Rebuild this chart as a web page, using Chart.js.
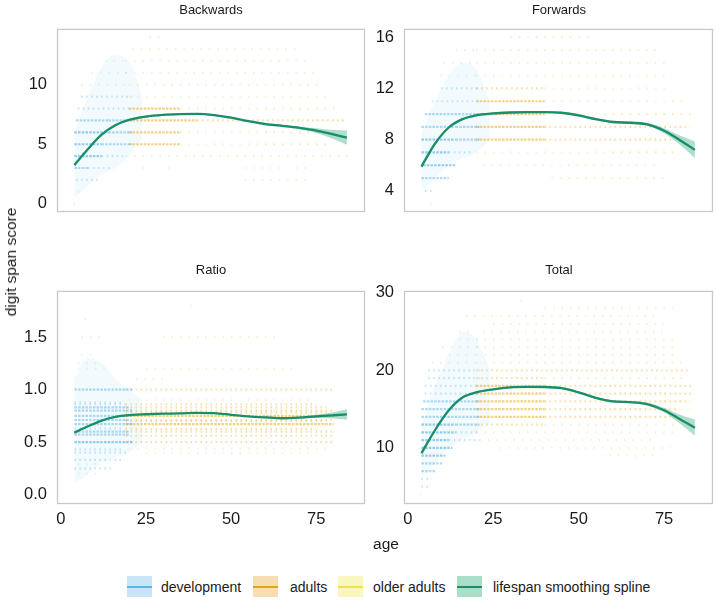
<!DOCTYPE html>
<html>
<head>
<meta charset="utf-8">
<script src="https://cdn.jsdelivr.net/npm/chart.js@4.4.1/dist/chart.umd.min.js"></script>
<style>
  body { margin: 0; background: #fff; font-family: "Liberation Sans", Arial, sans-serif; color: #1a1a1a; }
  #wrap { position: relative; width: 716px; height: 608px; overflow: hidden; }
  canvas { position: absolute; }
  .strip { position: absolute; font-size: 13px; transform: translate(-50%, -50%); white-space: nowrap; }
  .axis-title { position: absolute; font-size: 15.5px; white-space: nowrap; transform: translate(-50%, -50%); }
  .key { position: absolute; top: 576px; width: 25px; height: 21px; }
  .key i { position: absolute; left: 0; right: 0; top: 9.5px; height: 2px; }
  .key-label { position: absolute; top: 578px; font-size: 14px; line-height: 18px; }
</style>
</head>
<body>
<div id="wrap">
  <canvas id="backChart" width="373" height="241" style="left:0;top:9px"></canvas>
  <canvas id="fwdChart" width="369" height="241" style="left:347px;top:9px"></canvas>
  <canvas id="ratioChart" width="373" height="263" style="left:0;top:271px"></canvas>
  <canvas id="totalChart" width="369" height="263" style="left:347px;top:271px"></canvas>

  <div class="strip" style="left:211px;top:9px">Backwards</div>
  <div class="strip" style="left:559px;top:9px">Forwards</div>
  <div class="strip" style="left:211px;top:269px">Ratio</div>
  <div class="strip" style="left:559px;top:269px">Total</div>

  <div class="axis-title" style="left:11px;top:262px;transform:translate(-50%,-50%) rotate(-90deg)">digit span score</div>
  <div class="axis-title" style="left:386px;top:544px">age</div>

  <div class="key" style="left:127px;background:#c8e5f7"><i style="background:#5cb5e8"></i></div>
  <div class="key-label" style="left:161px">development</div>
  <div class="key" style="left:253px;background:#f5deb1"><i style="background:#e5a11c"></i></div>
  <div class="key-label" style="left:290px">adults</div>
  <div class="key" style="left:338px;background:#faf6bf"><i style="background:#efe24e"></i></div>
  <div class="key-label" style="left:373px">older adults</div>
  <div class="key" style="left:457px;background:#aadec9"><i style="background:#1a8d69"></i></div>
  <div class="key-label" style="left:493px">lifespan smoothing spline</div>
</div>

<script>
// shared x axis
const ageTicks = [0, 25, 50, 75];
const splineAge = [4, 8, 12, 16, 20, 25, 30, 35, 40, 45, 50, 55, 60, 65, 70, 75, 80, 84];
const devHazeAge = [4, 8, 12, 16, 20, 24];

// rows of observations: [score, age from, age to, relative count]
// Backwards
const backwardsTicks = [0, 5, 10];
const backwardsSpline = [3.25, 4.6, 5.8, 6.6, 7.05, 7.33, 7.47, 7.53, 7.55, 7.45, 7.23, 6.95, 6.7, 6.55, 6.38, 6.15, 5.82, 5.55];
const backwardsLower = [3.05, 4.5, 5.72, 6.52, 6.97, 7.25, 7.39, 7.45, 7.47, 7.37, 7.15, 6.87, 6.6, 6.45, 6.26, 5.95, 5.44, 4.95];
const backwardsUpper = [3.45, 4.7, 5.88, 6.68, 7.13, 7.41, 7.55, 7.61, 7.63, 7.53, 7.31, 7.03, 6.8, 6.65, 6.5, 6.35, 6.2, 6.15];
const backwardsDev = [
  [0, 3.7, 4.2, 1], [1, 5, 7, 1], [2, 4.5, 11, 2], [3, 4, 8, 3], [3, 8, 15, 2],
  [4, 4, 12, 4], [4, 12, 19, 2], [5, 4, 12, 4], [5, 12, 21, 3], [6, 4, 14, 4], [6, 14, 21, 3],
  [7, 4.5, 14, 3], [7, 14, 21, 3], [8, 5, 21, 2], [9, 6, 21, 2], [10, 6, 20, 1],
  [11, 9, 20, 1], [12, 13, 19, 1]
];
const backwardsAdults = [
  [2, 54, 73, 1], [3, 24, 32, 1], [3, 54, 73, 1], [4, 19, 86, 1],
  [5, 20, 35, 3], [5, 35, 80, 1], [6, 20, 35, 3], [6, 35, 79, 1],
  [7, 20, 40, 3], [7, 40, 84, 2], [8, 20, 35, 3], [8, 35, 81, 1],
  [9, 20, 78, 1], [10, 20, 76, 1], [11, 19, 75, 1], [12, 19, 73, 1],
  [13, 21, 70, 1], [14, 26, 30, 1]
];
const backwardsOlder = [[5, 60, 84, 1], [6, 60, 82, 1], [7, 60, 84, 1], [8, 60, 80, 1]];
const backwardsDevLow = [0.5, 1.5, 2.5, 3, 4, 5.5];
const backwardsDevHigh = [6, 9, 11.5, 12.5, 12, 9];

// Forwards
const forwardsTicks = [4, 8, 12, 16];
const forwardsSpline = [5.9, 7.7, 8.95, 9.6, 9.9, 10.05, 10.12, 10.15, 10.15, 10.1, 9.9, 9.6, 9.38, 9.32, 9.2, 8.7, 7.9, 7.2];
const forwardsLower = [5.7, 7.6, 8.87, 9.52, 9.82, 9.97, 10.04, 10.07, 10.07, 10.02, 9.8, 9.5, 9.28, 9.22, 9.08, 8.5, 7.52, 6.55];
const forwardsUpper = [6.1, 7.8, 9.03, 9.68, 9.98, 10.13, 10.2, 10.23, 10.23, 10.18, 10.0, 9.7, 9.48, 9.42, 9.32, 8.9, 8.28, 7.85];
const forwardsDev = [
  [3, 6.5, 7.2, 1], [4, 5, 8, 2], [5, 4, 12, 3], [6, 4.5, 14, 4],
  [7, 4, 12, 4], [7, 12, 19, 2], [8, 4, 14, 4], [8, 14, 21, 3],
  [9, 4, 14, 3], [9, 14, 21, 3], [10, 5, 21, 3], [11, 7, 21, 2],
  [12, 9.7, 21, 2], [13, 9.5, 20, 1], [14, 10.5, 20, 1], [15, 14, 20, 1]
];
const forwardsAdults = [
  [5, 42, 76, 1], [6, 22, 73, 1], [7, 20, 79, 1], [8, 20, 40, 3], [8, 40, 78, 2],
  [9, 20, 40, 3], [9, 40, 82, 2], [10, 20, 40, 3], [10, 40, 83, 1],
  [11, 20, 40, 3], [11, 40, 82, 1], [12, 20, 40, 2], [12, 40, 76, 1],
  [13, 20, 77, 1], [14, 20, 76, 1], [15, 20, 73, 1], [16, 30, 53, 1]
];
const forwardsOlder = [[7, 60, 80, 1], [8, 60, 82, 1], [9, 60, 84, 1], [10, 60, 82, 1]];
const forwardsDevLow = [4, 5, 6, 6.5, 7, 8];
const forwardsDevHigh = [8.5, 11, 13, 14, 13.5, 11];

// Ratio
const ratioTicks = [0, 0.5, 1, 1.5];
const ratioSpline = [0.59, 0.65, 0.705, 0.74, 0.757, 0.765, 0.77, 0.773, 0.778, 0.775, 0.76, 0.745, 0.735, 0.727, 0.733, 0.745, 0.755, 0.763];
const ratioLower = [0.575, 0.642, 0.699, 0.734, 0.751, 0.759, 0.764, 0.767, 0.772, 0.769, 0.754, 0.739, 0.728, 0.719, 0.723, 0.73, 0.725, 0.713];
const ratioUpper = [0.605, 0.658, 0.711, 0.746, 0.763, 0.771, 0.776, 0.779, 0.784, 0.781, 0.766, 0.751, 0.742, 0.735, 0.743, 0.76, 0.785, 0.813];
const ratioDev = [
  [0.2, 5, 12, 1], [0.25, 4, 15, 2], [0.29, 5, 12, 1], [0.33, 4, 18, 2], [0.4, 4, 20, 2],
  [0.43, 4, 18, 2], [0.5, 4, 21, 4], [0.57, 4, 20, 3], [0.6, 4, 20, 3], [0.63, 4, 18, 2],
  [0.67, 4, 21, 3], [0.71, 4, 20, 3], [0.75, 4, 21, 3], [0.8, 4, 21, 3], [0.83, 4, 20, 3],
  [0.86, 4, 19, 2], [0.875, 4, 18, 2], [1.0, 4, 21, 3], [1.2, 5, 14, 1], [1.25, 5, 12, 1],
  [1.33, 6, 11, 1], [1.5, 6, 12, 1], [1.67, 7, 9, 1]
];
const ratioAdults = [
  [0.4, 25, 75, 1], [0.44, 20, 78, 1], [0.5, 19, 80, 2], [0.56, 19, 80, 2], [0.6, 19, 80, 2],
  [0.625, 19, 75, 2], [0.67, 19, 80, 3], [0.7, 19, 78, 2], [0.71, 19, 80, 2], [0.75, 19, 80, 3],
  [0.78, 19, 78, 2], [0.8, 19, 80, 2], [0.83, 19, 78, 2], [0.86, 19, 75, 2], [0.9, 20, 75, 1],
  [1.0, 19, 80, 2], [1.1, 22, 30, 1], [1.2, 25, 70, 1], [1.5, 30, 65, 1], [1.8, 38, 40, 1]
];
const ratioOlder = [[0.6, 60, 82, 1], [0.67, 60, 84, 1], [0.75, 60, 84, 1], [0.8, 60, 80, 1]];
const ratioDevLow = [0.1, 0.2, 0.3, 0.35, 0.4, 0.5];
const ratioDevHigh = [1.1, 1.3, 1.25, 1.1, 1.0, 0.9];

// Total
const totalTicks = [10, 20, 30];
const totalSpline = [9.3, 12.3, 14.85, 16.5, 17.15, 17.55, 17.8, 17.86, 17.85, 17.7, 17.15, 16.45, 16.0, 15.9, 15.65, 14.85, 13.6, 12.6];
const totalLower = [9.0, 12.15, 14.73, 16.38, 17.03, 17.43, 17.68, 17.74, 17.73, 17.55, 17.0, 16.3, 15.85, 15.75, 15.45, 14.55, 13.0, 11.55];
const totalUpper = [9.6, 12.45, 14.97, 16.62, 17.27, 17.67, 17.92, 17.98, 17.97, 17.85, 17.3, 16.6, 16.15, 16.05, 15.85, 15.15, 14.2, 13.65];
const totalDev = [
  [4, 3.5, 4.5, 1], [5, 4, 6, 2], [6, 4, 7, 2], [7, 4, 8, 3], [8, 4, 10, 3], [9, 4, 11, 4],
  [10, 4, 13, 4], [11, 4, 12, 4], [11, 12, 21, 2], [12, 4, 14, 4], [12, 14, 21, 2],
  [13, 4, 14, 4], [13, 14, 21, 3], [14, 4, 21, 3], [15, 4, 21, 3], [16, 4.5, 21, 3],
  [17, 5, 21, 2], [18, 5, 21, 2], [19, 6, 21, 2], [20, 6, 21, 2], [21, 7, 21, 1],
  [22, 12, 21, 1], [23, 10, 21, 1], [24, 15, 21, 1], [25, 15, 20, 1]
];
const totalAdults = [
  [9, 59, 73, 1], [10, 27, 77, 1], [11, 21, 72, 1], [12, 20, 78, 1], [13, 20, 40, 2], [13, 40, 78, 1],
  [14, 20, 40, 3], [14, 40, 79, 2], [15, 20, 40, 3], [15, 40, 79, 2], [16, 20, 40, 3], [16, 40, 82, 2],
  [17, 20, 40, 3], [17, 40, 83, 2], [18, 20, 40, 3], [18, 40, 83, 2], [19, 20, 40, 2], [19, 40, 82, 1],
  [20, 20, 82, 2], [21, 20, 80, 1], [22, 20, 78, 1], [23, 20, 78, 1], [24, 20, 78, 1],
  [25, 22, 75, 1], [26, 25, 75, 1], [27, 17, 72, 1], [28, 40, 78, 1], [29, 33, 34, 1]
];
const totalOlder = [[14, 60, 82, 1], [15, 60, 84, 1], [16, 60, 84, 1], [17, 60, 80, 1]];
const totalDevLow = [6, 8, 10, 11, 12, 13];
const totalDevHigh = [13, 18, 22, 25, 24, 20];

const DEV = '86,180,233';
const ADULT = '230,159,0';
const OLDER = '240,228,66';
const SPLINE = '#188e69';

function pairs(xs, ys) {
    return xs.map((x, i) => ({ x: x, y: ys[i] }));
}

function dashFor(n) {
    if (n >= 3) return [2.5, 1.2];
    if (n === 2) return [1.6, 3.4];
    return [1.5, 7];
}

function rowSets(rows, rgb, base, order) {
    return rows.map(r => ({
        data: [{ x: r[1], y: r[0] }, { x: r[2], y: r[0] }],
        borderColor: `rgba(${rgb},${Math.min(0.8, base * r[3])})`,
        borderWidth: 2.2,
        borderDash: dashFor(r[3]),
        pointRadius: 0,
        fill: false,
        order: order
    }));
}

function bandSets(xs, low, high, color, order) {
    return [
        { data: pairs(xs, low), borderWidth: 0, pointRadius: 0, fill: false, order: order, cubicInterpolationMode: 'monotone' },
        { data: pairs(xs, high), borderWidth: 0, pointRadius: 0, fill: '-1', backgroundColor: color, order: order, cubicInterpolationMode: 'monotone' }
    ];
}

const panelBorder = {
    id: 'panelBorder',
    afterDraw(chart) {
        const a = chart.chartArea;
        const ctx = chart.ctx;
        ctx.save();
        ctx.strokeStyle = '#c8c8c8';
        ctx.lineWidth = 1.3;
        ctx.strokeRect(a.left + 0.5, a.top + 0.5, a.right - a.left - 1, a.bottom - a.top - 1);
        ctx.restore();
    }
};

function makePanel(id, p) {
    let datasets = [];
    datasets = datasets.concat(bandSets(devHazeAge, p.devLow, p.devHigh, 'rgba(86,180,233,0.07)', 6));
    datasets = datasets.concat(rowSets(p.older, OLDER, 0.22, 5));
    datasets = datasets.concat(rowSets(p.adults, ADULT, 0.16, 4));
    datasets = datasets.concat(rowSets(p.dev, DEV, 0.16, 3));
    datasets = datasets.concat(bandSets(splineAge, p.lower, p.upper, 'rgba(26,158,115,0.35)', 1));
    datasets.push({
        data: pairs(splineAge, p.spline),
        borderColor: SPLINE,
        borderWidth: 2.3,
        pointRadius: 0,
        fill: false,
        cubicInterpolationMode: 'monotone',
        order: 0
    });

    const tickFont = { family: '"Liberation Sans", Arial, sans-serif', size: 16.5 };
    return new Chart(document.getElementById(id), {
        type: 'line',
        data: { datasets: datasets },
        options: {
            responsive: false,
            animation: false,
            events: [],
            layout: { padding: { top: 12, right: p.padRight, bottom: p.showX ? 0 : 8, left: 0 } },
            plugins: { legend: { display: false }, tooltip: { enabled: false } },
            scales: {
                x: {
                    type: 'linear',
                    min: -1.1,
                    max: 89.3,
                    display: p.showX,
                    grid: { display: false, drawTicks: false },
                    border: { display: false },
                    ticks: { color: '#1a1a1a', font: tickFont, padding: 6, maxRotation: 0 },
                    afterBuildTicks: s => { s.ticks = ageTicks.map(v => ({ value: v })); },
                    afterFit: s => { s.height = 30; }
                },
                y: {
                    type: 'linear',
                    min: p.yMin,
                    max: p.yMax,
                    grid: { display: false, drawTicks: false },
                    border: { display: false },
                    ticks: {
                        color: '#1a1a1a',
                        font: tickFont,
                        padding: 10,
                        callback: v => p.decimals ? v.toFixed(1) : String(v)
                    },
                    afterBuildTicks: s => { s.ticks = p.ticks.map(v => ({ value: v })); },
                    afterFit: s => { s.width = 57; }
                }
            }
        },
        plugins: [panelBorder]
    });
}

makePanel('backChart', {
    yMin: -0.7, yMax: 14.7, ticks: backwardsTicks, showX: false, padRight: 8,
    spline: backwardsSpline, lower: backwardsLower, upper: backwardsUpper,
    dev: backwardsDev, adults: backwardsAdults, older: backwardsOlder,
    devLow: backwardsDevLow, devHigh: backwardsDevHigh
});
makePanel('fwdChart', {
    yMin: 2.35, yMax: 16.65, ticks: forwardsTicks, showX: false, padRight: 3,
    spline: forwardsSpline, lower: forwardsLower, upper: forwardsUpper,
    dev: forwardsDev, adults: forwardsAdults, older: forwardsOlder,
    devLow: forwardsDevLow, devHigh: forwardsDevHigh
});
makePanel('ratioChart', {
    yMin: -0.09, yMax: 1.94, ticks: ratioTicks, showX: true, padRight: 8, decimals: true,
    spline: ratioSpline, lower: ratioLower, upper: ratioUpper,
    dev: ratioDev, adults: ratioAdults, older: ratioOlder,
    devLow: ratioDevLow, devHigh: ratioDevHigh
});
makePanel('totalChart', {
    yMin: 2.75, yMax: 30.25, ticks: totalTicks, showX: true, padRight: 3,
    spline: totalSpline, lower: totalLower, upper: totalUpper,
    dev: totalDev, adults: totalAdults, older: totalOlder,
    devLow: totalDevLow, devHigh: totalDevHigh
});
</script>
</body>
</html>
